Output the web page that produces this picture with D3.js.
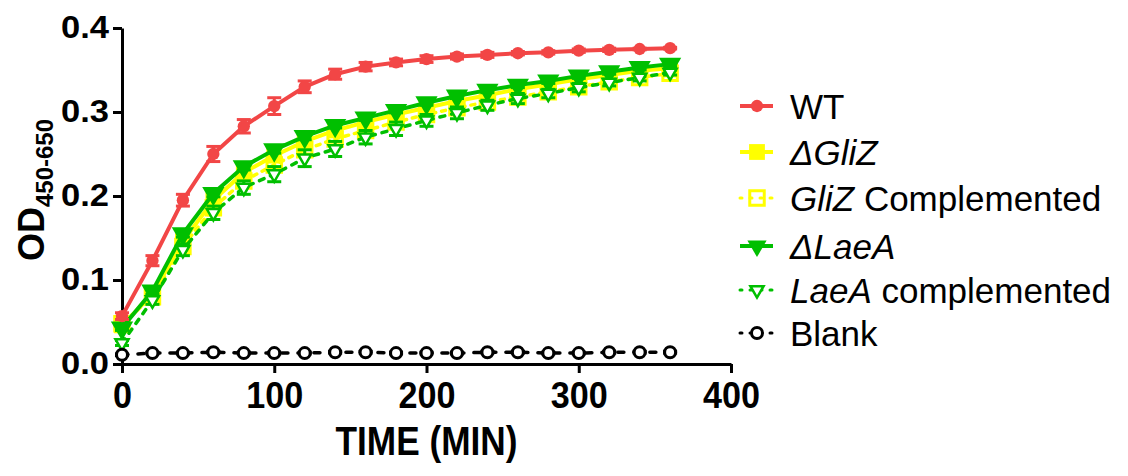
<!DOCTYPE html>
<html>
<head>
<meta charset="utf-8">
<script src="https://cdn.jsdelivr.net/npm/d3@7"></script>
<style>
  body { margin: 0; background: #fff; }
  svg { display: block; font-family: "Liberation Sans", Arial, sans-serif; }
</style>
</head>
<body>
<svg width="1128" height="476"></svg>
<script>
// time points (min)
const times = [0, 20, 40, 60, 80, 100, 120, 140, 160, 180, 200, 220, 240, 260, 280, 300, 320, 340, 360];

// OD450-650 means
const wt     = [.057, .123, .195, .250, .283, .307, .330, .345, .354, .359, .363, .366, .368, .370, .371, .373, .374, .375, .376];
const dGliZ  = [.046, .083, .146, .195, .228, .248, .265, .278, .288, .297, .305, .313, .320, .327, .333, .339, .344, .349, .352];
const gliZc  = [.048, .080, .140, .186, .218, .237, .255, .268, .278, .288, .297, .305, .312, .318, .324, .330, .336, .341, .346];
const dLaeA  = [.043, .087, .155, .203, .235, .255, .271, .284, .293, .302, .311, .319, .326, .332, .337, .343, .348, .353, .357];
const laeAc  = [.025, .076, .136, .180, .210, .226, .245, .256, .270, .280, .290, .299, .308, .316, .322, .329, .335, .341, .347];
const blank  = [.011, .013, .013, .014, .013, .013, .013, .014, .014, .013, .013, .013, .014, .014, .013, .013, .014, .014, .014];

// error bars (SD)
const wtErr    = [.004, .006, .007, .009, .008, .010, .007, .006, .005, .004, .004, .003, .003, .002, .002, .002, .002, .001, .001];
const dGliZErr = [.004, .004, .005, .005, .005, .005, .004, .004, .004, .004, .004, .004, .004, .003, .003, .003, .003, .003, .003];
const gliZcErr = [.004, .004, .005, .005, .005, .005, .005, .004, .004, .004, .004, .004, .004, .004, .003, .003, .003, .003, .003];
const dLaeAErr = [.003, .004, .004, .004, .004, .004, .004, .003, .003, .003, .003, .003, .003, .003, .003, .003, .003, .003, .003];
const laeAcErr = [.003, .005, .007, .008, .008, .009, .010, .009, .008, .008, .007, .007, .006, .006, .005, .005, .004, .004, .003];
const blankErr = times.map(() => .001);

const xTicks = [0, 100, 200, 300, 400];
const yTicks = [0, 0.1, 0.2, 0.3, 0.4];

const RED = "#f24646", YELLOW = "#ffff00", GREEN = "#00bf00", BLACK = "#000";

const series = [
  { name: "dGliZ", label: [["Δ", true], ["GliZ", true]], values: dGliZ, err: dGliZErr, color: YELLOW, dash: null, symbol: "square", filled: true },
  { name: "gliZc", label: [["GliZ", true], [" Complemented", false]], values: gliZc, err: gliZcErr, color: YELLOW, dash: "4,6", symbol: "square", filled: false },
  { name: "dLaeA", label: [["Δ", true], ["LaeA", true]], values: dLaeA, err: dLaeAErr, color: GREEN, dash: null, symbol: "triangle", filled: true },
  { name: "laeAc", label: [["LaeA", true], [" complemented", false]], values: laeAc, err: laeAcErr, color: GREEN, dash: "5,7", symbol: "triangle", filled: false },
  { name: "blank", label: [["Blank", false]], values: blank, err: blankErr, color: BLACK, dash: "6,10", symbol: "circle", filled: false },
  { name: "wt", label: [["WT", false]], values: wt, err: wtErr, color: RED, dash: null, symbol: "circle", filled: true }
];
// legend order
const legendOrder = ["wt", "dGliZ", "gliZc", "dLaeA", "laeAc", "blank"];

const svg = d3.select("svg");
const plotLeft = 122, plotRight = 731, plotTop = 28, plotBottom = 364;

const x = d3.scaleLinear().domain([0, 400]).range([plotLeft, plotRight]);
const y = d3.scaleLinear().domain([0, 0.4]).range([plotBottom, plotTop]);

// axes
const yAxis = svg.append("g")
  .attr("transform", `translate(${plotLeft},0)`)
  .call(d3.axisLeft(y).tickValues(yTicks).tickFormat(d3.format(".1f")).tickSize(9).tickSizeOuter(0).tickPadding(4));
yAxis.selectAll("text")
  .attr("font-size", 31).attr("font-weight", "bold").attr("fill", "#000")
  .attr("font-family", "Liberation Sans, Arial, sans-serif")
  .attr("textLength", 48).attr("lengthAdjust", "spacingAndGlyphs");

const xAxis = svg.append("g")
  .attr("transform", `translate(0,${plotBottom})`)
  .call(d3.axisBottom(x).tickValues(xTicks).tickSize(9).tickSizeOuter(0).tickPadding(9));
xAxis.selectAll("text")
  .attr("font-size", 37).attr("font-weight", "bold").attr("fill", "#000")
  .attr("font-family", "Liberation Sans, Arial, sans-serif")
  .attr("textLength", d => String(d).length * 19).attr("lengthAdjust", "spacingAndGlyphs");

svg.selectAll(".domain, .tick line").attr("stroke", "#000").attr("stroke-width", 3);

// axis titles
svg.append("text")
  .attr("x", (plotLeft + plotRight) / 2).attr("y", 455)
  .attr("text-anchor", "middle")
  .attr("font-size", 40).attr("font-weight", "bold")
  .attr("textLength", 182).attr("lengthAdjust", "spacingAndGlyphs")
  .text("TIME (MIN)");

const yTitle = svg.append("text")
  .attr("transform", `translate(44,${(plotTop + plotBottom) / 2 - 6}) rotate(-90)`)
  .attr("text-anchor", "middle")
  .attr("font-weight", "bold");
yTitle.append("tspan").attr("font-size", 36).text("OD");
yTitle.append("tspan").attr("font-size", 24).attr("dy", 9).text("450-650");

function symbolPath(s, small) {
  if (s.symbol === "circle") return d3.symbol(d3.symbolCircle, s.filled ? 120 : 95)();
  if (s.symbol === "square") return d3.symbol(d3.symbolSquare, s.filled ? 250 : 210)();
  return d3.symbol(d3.symbolTriangle, s.filled ? (small ? 160 : 215) : 75)();
}

function drawMarker(g, s, small) {
  const p = g.append("path")
    .attr("d", symbolPath(s, small))
    .attr("transform", s.symbol === "triangle" ? "rotate(180)" : null);
  if (s.filled) p.attr("fill", s.color).attr("stroke", "none");
  else p.attr("fill", "#fff").attr("fill-opacity", s.symbol === "square" ? 0 : 1)
        .attr("stroke", s.color).attr("stroke-width", s.symbol === "triangle" ? 2.5 : 3);
}

const line = d3.line().x((d, i) => x(times[i])).y(d => y(d));

series.forEach(s => {
  const g = svg.append("g").attr("class", "series-" + s.name);

  // error bars
  const eb = g.selectAll(".eb").data(s.values).enter().append("g")
    .attr("stroke", s.color).attr("stroke-width", 3);
  eb.append("line")
    .attr("x1", (d, i) => x(times[i])).attr("x2", (d, i) => x(times[i]))
    .attr("y1", (d, i) => y(d - s.err[i])).attr("y2", (d, i) => y(d + s.err[i]));
  [-1, 1].forEach(sign => {
    eb.append("line")
      .attr("x1", (d, i) => x(times[i]) - 7).attr("x2", (d, i) => x(times[i]) + 7)
      .attr("y1", (d, i) => y(d + sign * s.err[i])).attr("y2", (d, i) => y(d + sign * s.err[i]));
  });

  g.append("path")
    .datum(s.values)
    .attr("d", line)
    .attr("fill", "none")
    .attr("stroke", s.color)
    .attr("stroke-width", s.dash ? 3.5 : 4)
    .attr("stroke-dasharray", s.dash)
    .attr("stroke-linecap", s.dash ? "round" : "butt");

  g.selectAll(".pt").data(s.values).enter().append("g")
    .attr("transform", (d, i) => `translate(${x(times[i])},${y(d)})`)
    .each(function () { drawMarker(d3.select(this), s, false); });
});

// legend
const legendY = [106, 152, 198, 246, 290, 333];
const legend = svg.append("g");
legendOrder.forEach((name, k) => {
  const s = series.find(d => d.name === name);
  const row = legend.append("g").attr("transform", `translate(0,${legendY[k]})`);
  row.append("line")
    .attr("x1", 740).attr("x2", 773)
    .attr("stroke", s.color).attr("stroke-width", s.dash ? 3 : 4)
    .attr("stroke-dasharray", s.dash ? "2,8" : null)
    .attr("stroke-linecap", s.dash ? "round" : "butt");
  const m = row.append("g").attr("transform", "translate(757,0)");
  drawMarker(m, s, true);
  const t = row.append("text")
    .attr("x", 790).attr("dy", "0.36em")
    .attr("font-size", 35).attr("fill", "#000");
  s.label.forEach(([txt, it]) => {
    t.append("tspan").attr("font-style", it ? "italic" : "normal").text(txt);
  });
});
</script>
</body>
</html>
